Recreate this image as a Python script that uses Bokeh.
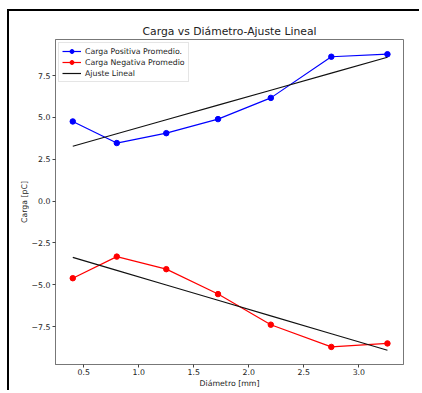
import numpy as np
from bokeh.plotting import figure
from bokeh.models import Range1d, FixedTicker, Legend, LegendItem
from bokeh.embed import file_html
from bokeh.resources import INLINE

# ---- data ----
diametro = [0.40, 0.80, 1.25, 1.72, 2.20, 2.75, 3.26]
carga_pos = [4.76, 3.47, 4.06, 4.90, 6.17, 8.63, 8.78]
carga_neg = [-4.61, -3.32, -4.07, -5.56, -7.39, -8.72, -8.51]

x_ticks = [0.5, 1.0, 1.5, 2.0, 2.5, 3.0]
y_ticks = [-7.5, -5.0, -2.5, 0.0, 2.5, 5.0, 7.5]

titulo = "Carga vs Diámetro-Ajuste Lineal"
x_label = "Diámetro [mm]"
y_label = "Carga [pC]"
lab_pos = "Carga Positiva Promedio."
lab_neg = "Carga Negativa Promedio"
lab_fit = "Ajuste Lineal"

# linear fits (as in the original analysis)
x = np.array(diametro)
fit_pos = np.polyval(np.polyfit(x, carga_pos, 1), x)
fit_neg = np.polyval(np.polyfit(x, carga_neg, 1), x)

FONT = "DejaVu Sans"
SMALL = "7.8px"

p = figure(width=412, height=381, output_backend="svg", toolbar_location=None,
           x_range=Range1d(0.243, 3.406), y_range=Range1d(-9.77, 9.66),
           min_border_left=46, min_border_right=18, min_border_top=28,
           min_border_bottom=28)
p.styles = {"border-left": "2px solid black", "border-top": "2px solid black",
            "margin-left": "7px", "margin-top": "9px"}

p.title.text = titulo
p.title.align = "center"
p.title.text_font = FONT
p.title.text_font_size = "10.8px"
p.title.text_font_style = "normal"
p.title.text_color = "#222222"
p.title.standoff = 3

p.grid.visible = False
p.outline_line_color = "#777777"
p.outline_line_width = 1

for ax in (p.xaxis[0], p.yaxis[0]):
    ax.axis_line_color = "#777777"
    ax.major_tick_line_color = "#444444"
    ax.major_tick_in = 0
    ax.major_tick_out = 3
    ax.minor_tick_line_color = None
    ax.major_label_text_font = FONT
    ax.major_label_text_font_size = SMALL
    ax.major_label_text_color = "#222222"
    ax.axis_label_text_font = FONT
    ax.axis_label_text_font_size = SMALL
    ax.axis_label_text_font_style = "normal"
    ax.axis_label_text_color = "#222222"

p.xaxis.ticker = FixedTicker(ticks=x_ticks)
p.yaxis.ticker = FixedTicker(ticks=y_ticks)
p.xaxis.major_label_overrides = {t: f"{t:.1f}" for t in x_ticks}
p.yaxis.major_label_overrides = {t: f"{t:.1f}".replace("-", "\u2212") for t in y_ticks}
p.xaxis.axis_label = x_label
p.yaxis.axis_label = y_label
p.xaxis.major_label_standoff = 1
p.xaxis.axis_label_standoff = 1
p.yaxis.major_label_standoff = 2
p.yaxis.axis_label_standoff = 0

lw = 1.2
ms = 5.5
l1 = p.line(diametro, carga_pos, line_color="#0000ff", line_width=lw)
m1 = p.scatter(diametro, carga_pos, marker="circle", size=ms, fill_color="#0000ff", line_color="#0000ff")
l2 = p.line(diametro, carga_neg, line_color="#ff0000", line_width=lw)
m2 = p.scatter(diametro, carga_neg, marker="circle", size=ms, fill_color="#ff0000", line_color="#ff0000")
f1 = p.line(diametro, fit_pos, line_color="#111111", line_width=lw)
f2 = p.line(diametro, fit_neg, line_color="#111111", line_width=lw)

legend = Legend(items=[
    LegendItem(label=lab_pos, renderers=[l1, m1]),
    LegendItem(label=lab_neg, renderers=[l2, m2]),
    LegendItem(label=lab_fit, renderers=[f1]),
], location="top_left")
legend.margin = 3
legend.padding = 3
legend.spacing = 1
legend.glyph_width = 19
legend.glyph_height = 10
legend.label_height = 10
legend.label_standoff = 4
legend.label_text_font = FONT
legend.label_text_font_size = SMALL
legend.label_text_color = "#222222"
legend.border_line_color = "#cccccc"
legend.border_line_width = 1
legend.background_fill_alpha = 0.8
p.add_layout(legend)

open("out.html", "w").write(file_html(p, INLINE))
